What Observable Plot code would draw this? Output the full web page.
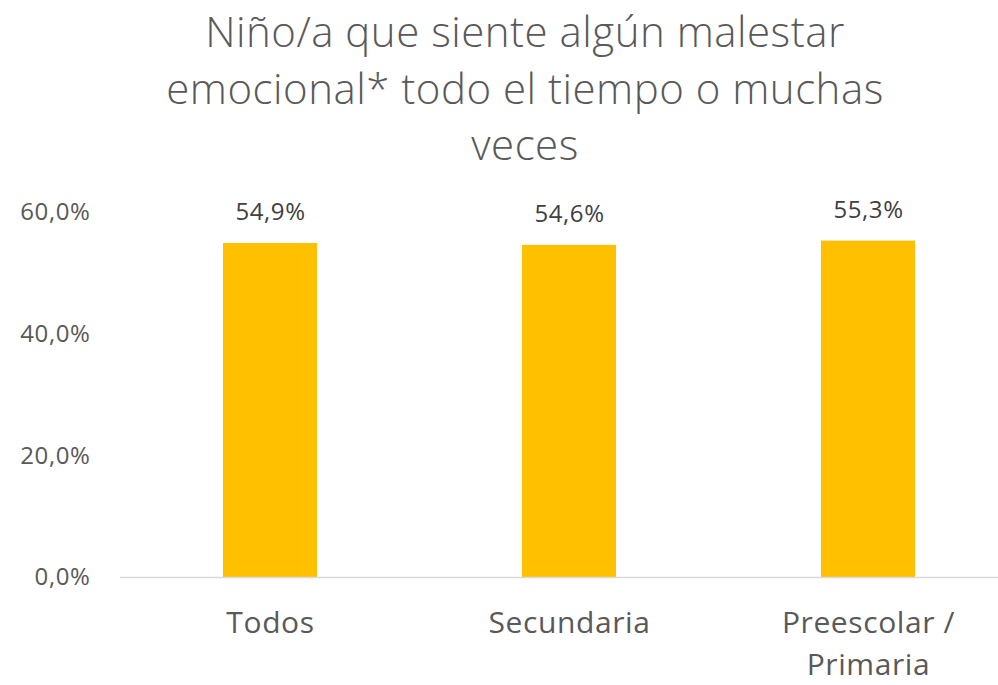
<!DOCTYPE html>
<html>
<head>
<meta charset="utf-8">
<script src="https://cdn.jsdelivr.net/npm/d3@7"></script>
<script src="https://cdn.jsdelivr.net/npm/@observablehq/plot@0.6"></script>
<style>
  html, body { margin: 0; padding: 0; background: #fff; overflow: hidden; }
  #title { box-sizing: border-box; width: 998px; height: 185px; padding-left: 52px; padding-top: 3px;
    text-align: center; font-family: "Open Sans", Lato, sans-serif; font-weight: 300;
    font-size: 42px; line-height: 56.5px; color: #595959; letter-spacing: 0.5px; }
</style>
</head>
<body>
<div id="title">Niño/a que siente algún malestar<br>emocional* todo el tiempo o muchas<br>veces</div>
<div id="chart"></div>
<script>
const categories = ["Todos", "Secundaria", "Preescolar /\nPrimaria"];
const values = [54.9, 54.6, 55.3];
const labels = ["54,9%", "54,6%", "55,3%"];
const yTicks = [0, 20, 40, 60];

const data = categories.map((c, i) => ({cat: c, v: values[i], label: labels[i]}));
const fmt = d => d.toFixed(1).replace(".", ",") + "%";

const chart = Plot.plot({
  width: 998,
  height: 500,
  marginTop: 27,
  marginBottom: 108,
  marginLeft: 120,
  marginRight: 0,
  style: {fontFamily: "'Open Sans', sans-serif", color: "#595959", background: "#fff", letterSpacing: "0.6px"},
  x: {domain: categories, range: [120, 1017], paddingInner: 0.686, paddingOuter: 0.343, label: null},
  y: {domain: [0, 60], label: null},
  marks: [
    Plot.barY(data, {x: "cat", y: "v", fill: "#FFC000"}),
    Plot.ruleY([0], {stroke: "#d9d9d9", strokeWidth: 1.5}),
    Plot.text(data, {x: "cat", y: "v", text: "label", dy: -31, fontSize: 24, fill: "#404040"}),
    Plot.axisY({ticks: yTicks, tickFormat: fmt, tickSize: 0, tickPadding: 30, fontSize: 24, fill: "#595959", label: null}),
    Plot.axisX({tickSize: 0, tickPadding: 26, fontSize: 30, lineHeight: 1.4, fill: "#595959", label: null, textAnchor: "middle", lineAnchor: "top"})
  ]
});
document.getElementById("chart").appendChild(chart);
</script>
</body>
</html>
